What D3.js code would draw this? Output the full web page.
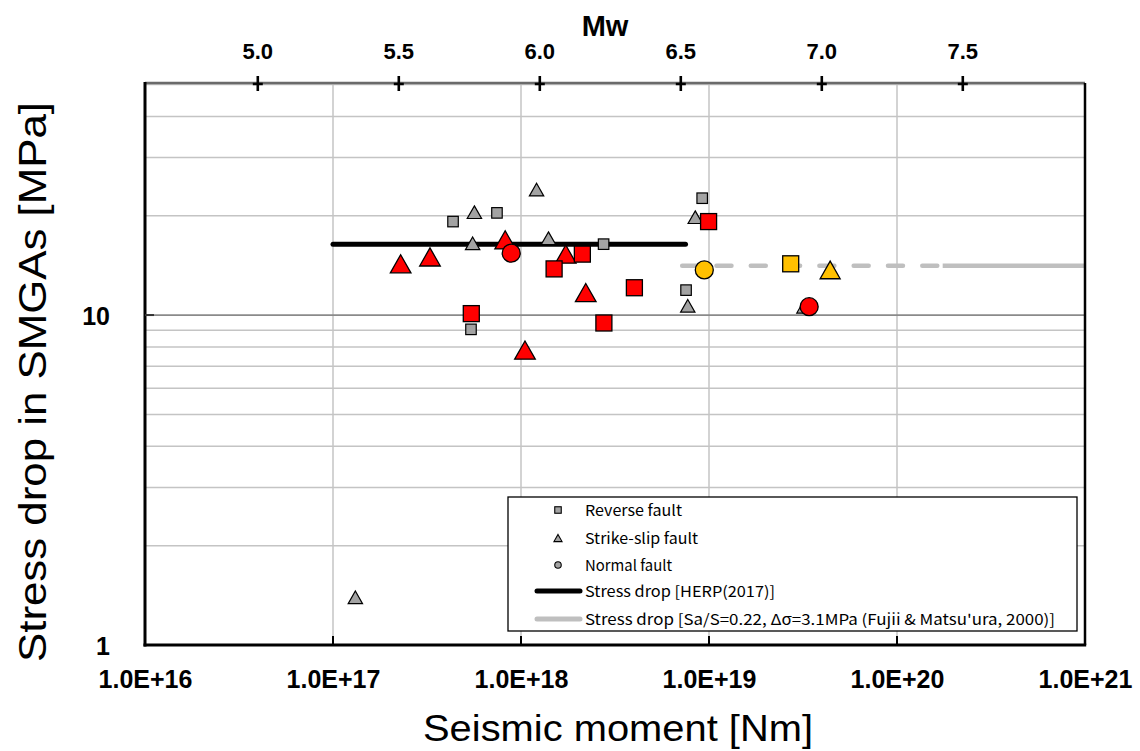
<!DOCTYPE html>
<html><head><meta charset="utf-8">
<script src="https://d3js.org/d3.v7.min.js"></script>
<style>body{margin:0;background:#fff}svg{display:block}</style>
</head><body>
<svg id="c" width="1140" height="751"></svg>
<script>
// ---- data (seismic moment [Nm], stress drop [MPa]) ----
const grayReverseM0   = [4.35e17, 7.45e17, 5.42e17, 2.75e18, 9.2e18, 7.55e18];
const grayReverseSD   = [19.2, 20.4, 9.05, 16.4, 22.6, 11.9];
const grayStrikeM0    = [1.21e18, 5.65e17, 5.53e17, 1.40e18, 8.45e18, 7.71e18, 1.315e17, 3.2e19];
const grayStrikeSD    = [24.0, 20.5, 16.5, 17.1, 19.8, 10.67, 1.395, 10.6];
const redStrikeM0     = [2.29e17, 3.28e17, 8.24e17, 1.73e18, 2.21e18, 1.05e18];
const redStrikeSD     = [14.3, 15.0, 16.9, 15.3, 11.7, 7.83];
const redReverseM0    = [5.44e17, 1.50e18, 2.12e18, 4.01e18, 2.76e18, 9.95e18];
const redReverseSD    = [10.1, 13.8, 15.3, 12.1, 9.46, 19.2];
const redNormalM0     = [8.87e17, 3.41e19];
const redNormalSD     = [15.4, 10.6];
const yellowM0        = [9.44e18, 2.72e19, 4.41e19];
const yellowSD        = [13.7, 14.3, 13.7];
const yellowShape     = ["circle", "square", "triangle"];
const herpM0          = [1e17, 7.5e18];
const herpSD          = 16.4;
const fujiiDashedM0   = [7.2e18, 1.75e20];
const fujiiSolidM0    = [1.75e20, 1e21];
const fujiiSD         = 14.1;
const xTicks          = [1e16, 1e17, 1e18, 1e19, 1e20, 1e21];
const yTicks          = [1, 10];
const mwTicks         = [5.0, 5.5, 6.0, 6.5, 7.0, 7.5];
const legendLabels    = ["Reverse fault", "Strike-slip fault", "Normal fault",
  "Stress drop [HERP(2017)]",
  "Stress drop [Sa/S=0.22, Δ\u03C3=3.1MPa (Fujii & Matsu'ura, 2000)]"];
const yMax = 50.5;

// ---- layout ----
const L = 145, R = 1085, T = 83, B = 645;
const svg = d3.select("#c");
const x = d3.scaleLog().domain([1e16, 1e21]).range([L, R]);
const y = d3.scaleLog().domain([1, yMax]).range([B, T]);
const m0FromMw = mw => Math.pow(10, 1.5 * mw + 9.1);

// grid
const g = svg.append("g");
const minorY = [];
[1, 10].forEach(d => { for (let k = 2; k <= 9; k++) { const v = d * k; if (v < yMax) minorY.push(v); } });
g.selectAll(".hy").data(minorY).join("line")
  .attr("x1", L).attr("x2", R).attr("y1", d => y(d)).attr("y2", d => y(d))
  .attr("stroke", "#c4c4c4").attr("stroke-width", 1.5);
g.selectAll(".vx").data(xTicks.slice(1, -1)).join("line")
  .attr("x1", d => x(d)).attr("x2", d => x(d)).attr("y1", T).attr("y2", B)
  .attr("stroke", "#c4c4c4").attr("stroke-width", 1.5);
g.append("line").attr("x1", L).attr("x2", R).attr("y1", y(10)).attr("y2", y(10))
  .attr("stroke", "#8a8a8a").attr("stroke-width", 1.8);

// reference lines
const lines = svg.append("g");
lines.append("line").attr("x1", x(fujiiDashedM0[0])).attr("x2", x(fujiiDashedM0[1]))
  .attr("y1", y(fujiiSD)).attr("y2", y(fujiiSD))
  .attr("stroke", "#bfbfbf").attr("stroke-width", 4.5).attr("stroke-linecap", "round")
  .attr("stroke-dasharray", "15 19.3");
lines.append("line").attr("x1", x(fujiiSolidM0[0])).attr("x2", x(fujiiSolidM0[1]))
  .attr("y1", y(fujiiSD)).attr("y2", y(fujiiSD))
  .attr("stroke", "#bfbfbf").attr("stroke-width", 4.5);
lines.append("line").attr("x1", x(herpM0[0])).attr("x2", x(herpM0[1]))
  .attr("y1", y(herpSD)).attr("y2", y(herpSD))
  .attr("stroke", "#000").attr("stroke-width", 5).attr("stroke-linecap", "round");

// markers
function marker(sel, shape, size, fill, sw) {
  sel.each(function(d) {
    const s = d3.select(this);
    if (shape === "square") {
      s.append("rect").attr("x", -size / 2).attr("y", -size / 2).attr("width", size).attr("height", size);
    } else if (shape === "circle") {
      s.append("circle").attr("r", size / 2);
    } else {
      const w = size * 1.25, h = size * 1.1;
      s.append("path").attr("d", `M0,${-h / 2}L${w / 2},${h / 2}L${-w / 2},${h / 2}Z`);
    }
    s.selectAll("*").attr("fill", fill).attr("stroke", "#000").attr("stroke-width", sw)
      .attr("stroke-linejoin", "miter");
  });
}
function series(m0, sd, shape, size, fill, sw) {
  const pts = m0.map((m, i) => ({ m, s: sd[i] }));
  const sel = svg.append("g").selectAll("g").data(pts).join("g")
    .attr("transform", d => `translate(${x(d.m)},${y(d.s)})`);
  marker(sel, shape, size, fill, sw);
}
series(grayStrikeM0, grayStrikeSD, "triangle", 11.5, "#a3a3a3", 1.2);
series(grayReverseM0, grayReverseSD, "square", 10.5, "#a3a3a3", 1.2);
series(redStrikeM0, redStrikeSD, "triangle", 16.5, "#ff0000", 1.3);
series(redReverseM0, redReverseSD, "square", 16, "#ff0000", 1.3);
series(redNormalM0, redNormalSD, "circle", 18, "#ff0000", 1.3);
yellowM0.forEach((m, i) => series([m], [yellowSD[i]], yellowShape[i],
  yellowShape[i] === "circle" ? 18 : 16, "#ffc000", 1.3));

// axes frame
const ax = svg.append("g");
ax.append("line").attr("x1", L).attr("x2", R).attr("y1", T).attr("y2", T)
  .attr("stroke", "#6a6a6a").attr("stroke-width", 2.5);
ax.append("line").attr("x1", R).attr("x2", R).attr("y1", T).attr("y2", B)
  .attr("stroke", "#000").attr("stroke-width", 2.5);
ax.append("line").attr("x1", L).attr("x2", L).attr("y1", T - 1).attr("y2", B + 1.5)
  .attr("stroke", "#000").attr("stroke-width", 3);
ax.append("line").attr("x1", L - 1.5).attr("x2", R + 1.2).attr("y1", B).attr("y2", B)
  .attr("stroke", "#000").attr("stroke-width", 3);

// bottom ticks (inside) + labels
const xAxis = d3.axisBottom(x).tickValues(xTicks).tickSize(0)
  .tickFormat(d => "1.0E+" + Math.round(Math.log10(d)));
const xg = svg.append("g").attr("transform", `translate(0,${B})`).call(xAxis);
xg.select(".domain").remove();
xg.selectAll("text").attr("y", 43).attr("dy", 0)
  .attr("font-family", "Liberation Sans, Arial, sans-serif").attr("font-size", 25)
  .attr("font-weight", "bold").attr("fill", "#000");
svg.append("g").selectAll("line").data(xTicks.slice(1, -1)).join("line")
  .attr("x1", d => x(d)).attr("x2", d => x(d)).attr("y1", B).attr("y2", B - 9)
  .attr("stroke", "#000").attr("stroke-width", 2);

// left ticks + labels
const yAxis = d3.axisLeft(y).tickValues(yTicks).tickSize(0).tickFormat(d3.format("d"));
const yg = svg.append("g").attr("transform", `translate(${L},0)`).call(yAxis);
yg.select(".domain").remove();
yg.selectAll("text").attr("x", -35).attr("dy", "0.36em")
  .attr("font-family", "Liberation Sans, Arial, sans-serif").attr("font-size", 25)
  .attr("font-weight", "bold").attr("fill", "#000");
svg.append("line").attr("x1", L).attr("x2", L + 9).attr("y1", y(10)).attr("y2", y(10))
  .attr("stroke", "#333").attr("stroke-width", 2);

// top Mw axis
const mw = svg.append("g");
mw.selectAll("path").data(mwTicks).join("path")
  .attr("d", d => { const px = x(m0FromMw(d)); return `M${px},${T - 7}V${T + 8}M${px - 5},${T + 1}H${px + 5}`; })
  .attr("stroke", "#000").attr("stroke-width", 2.6).attr("fill", "none");
mw.selectAll("text").data(mwTicks).join("text")
  .attr("x", d => x(m0FromMw(d))).attr("y", 59).attr("text-anchor", "middle")
  .attr("font-family", "Liberation Sans, Arial, sans-serif").attr("font-size", 22)
  .attr("font-weight", "bold").text(d => d.toFixed(1));
svg.append("text").attr("x", 605).attr("y", 36).attr("text-anchor", "middle")
  .attr("font-family", "Liberation Sans, Arial, sans-serif").attr("font-size", 29)
  .attr("font-weight", "bold").text("Mw");

// axis titles
svg.append("text").attr("x", 618).attr("y", 741).attr("text-anchor", "middle")
  .attr("font-family", "Liberation Sans, Arial, sans-serif").attr("font-size", 36)
  .attr("textLength", 390).attr("lengthAdjust", "spacingAndGlyphs")
  .text("Seismic moment [Nm]");
svg.append("text").attr("transform", "translate(46,382) rotate(-90)").attr("text-anchor", "middle")
  .attr("font-family", "Liberation Sans, Arial, sans-serif").attr("font-size", 38)
  .attr("textLength", 560).attr("lengthAdjust", "spacingAndGlyphs")
  .text("Stress drop in SMGAs [MPa]");

// legend
const lg = svg.append("g");
lg.append("rect").attr("x", 508).attr("y", 497).attr("width", 569).attr("height", 134)
  .attr("fill", "#fff").attr("stroke", "#000").attr("stroke-width", 1.3);
const rowsY = [510, 538, 565, 591, 619];
const textLens = [97, 113, 87, 190, 470];
const lshapes = ["square", "triangle", "circle"];
lshapes.forEach((sh, i) => {
  const s = lg.append("g").datum(0).attr("transform", `translate(558,${rowsY[i]})`);
  marker(s, sh, 6.5, "#a3a3a3", 1.1);
});
lg.append("line").attr("x1", 537).attr("x2", 580).attr("y1", rowsY[3]).attr("y2", rowsY[3])
  .attr("stroke", "#000").attr("stroke-width", 5).attr("stroke-linecap", "round");
lg.append("line").attr("x1", 537).attr("x2", 580).attr("y1", rowsY[4]).attr("y2", rowsY[4])
  .attr("stroke", "#bfbfbf").attr("stroke-width", 5).attr("stroke-linecap", "round");
lg.selectAll("text.l").data(legendLabels).join("text")
  .attr("x", 585).attr("y", (d, i) => rowsY[i] + 5.5)
  .attr("font-family", "Noto Sans CJK JP, sans-serif").attr("font-size", 15)
  .attr("textLength", (d, i) => textLens[i]).attr("lengthAdjust", "spacingAndGlyphs")
  .text(d => d);
</script>
</body></html>
